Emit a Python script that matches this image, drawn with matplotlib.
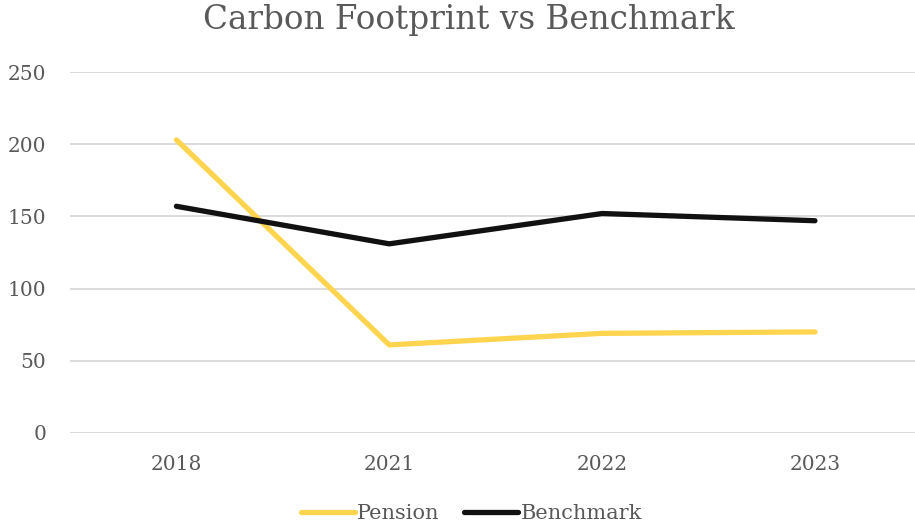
import matplotlib
matplotlib.use("Agg")
import matplotlib.pyplot as plt

years = ["2018", "2021", "2022", "2023"]
pension = [203, 61, 69, 70]
benchmark = [157, 131, 152, 147]
y_ticks = [0, 50, 100, 150, 200, 250]

plt.rcParams['font.family'] = ['DejaVu Serif']
text_col = '#595959'

fig = plt.figure(figsize=(9.15, 5.26), dpi=100)
ax = fig.add_axes([70 / 915, 1 - 433 / 526, 845 / 915, (433 - 72) / 526])

x = range(len(years))
ax.plot(x, pension, color='#FFD44F', lw=3.8, solid_capstyle='round', label='Pension')
ax.plot(x, benchmark, color='#111111', lw=3.8, solid_capstyle='round', label='Benchmark')

ax.set_ylim(0, 250)
ax.set_xlim(-0.5, 3.47)
ax.set_yticks(y_ticks)
ax.set_xticks(list(x))
ax.set_xticklabels(years)
ax.grid(axis='y', color='#D9D9D9', lw=1.3)
ax.set_axisbelow(True)
for s in ax.spines.values():
    s.set_visible(False)
ax.tick_params(axis='both', length=0, labelsize=14.5, labelcolor=text_col)
ax.tick_params(axis='x', pad=16)
ax.tick_params(axis='y', pad=17)
for lbl in ax.get_yticklabels():
    lbl.set_horizontalalignment('right')

fig.text(0.512, 0.962, 'Carbon Footprint vs Benchmark', ha='center', va='center',
         fontsize=23.5, color=text_col)

fig.legend(loc='center', bbox_to_anchor=(0.515, 0.024), ncol=2, frameon=False,
           fontsize=15, labelcolor=text_col, handlelength=2.6, handletextpad=0.1,
           columnspacing=1.2)

fig.savefig('out.png', dpi=100)
